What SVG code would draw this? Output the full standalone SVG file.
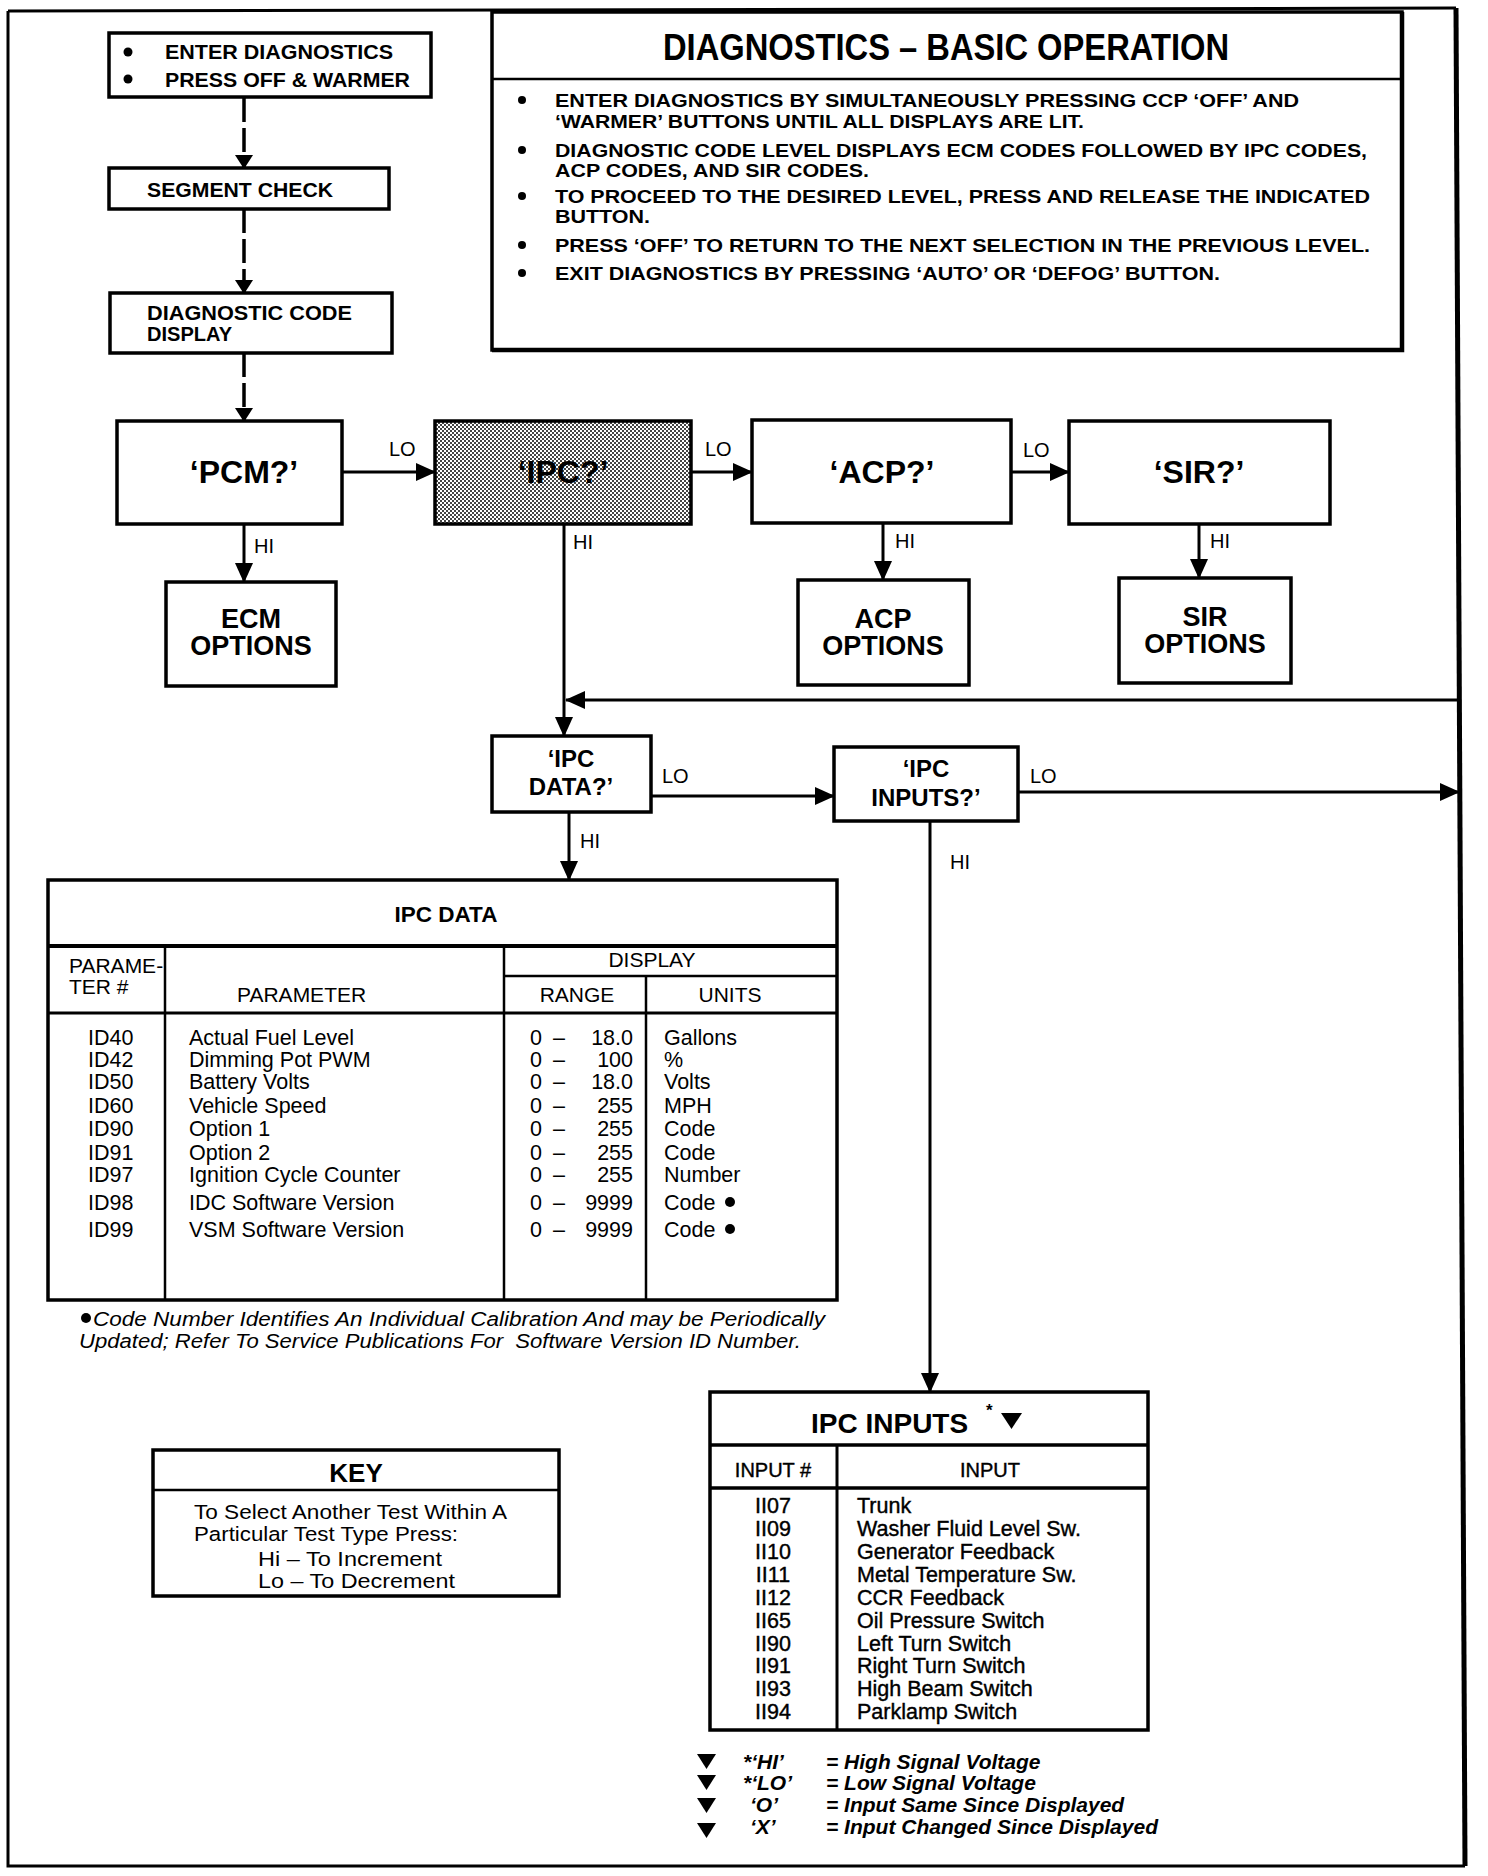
<svg xmlns="http://www.w3.org/2000/svg" width="1488" height="1876" viewBox="0 0 1488 1876">
<defs>
<style>
text{font-family:"Liberation Sans",Arial,Helvetica,sans-serif;fill:#000}
.box{fill:#fff;stroke:#000;stroke-width:3.5}
.ln{fill:none;stroke:#000;stroke-width:3}
.tl{fill:none;stroke:#000;stroke-width:2.5}
.dash{fill:none;stroke:#000;stroke-width:3.5;stroke-dasharray:24 6}
.b{font-weight:bold}
.m{stroke:#000;stroke-width:0.4}
.i{font-style:italic}
.mid{text-anchor:middle}
.end{text-anchor:end}
.node{font-size:32px;font-weight:bold;text-anchor:middle}
.opt{font-size:27px;font-weight:bold;text-anchor:middle}
.sub{font-size:24px;font-weight:bold;text-anchor:middle}
.lbl{font-size:20px}
.tb{font-size:21.5px}
.bx{font-size:21px;font-weight:bold}
.hd{font-size:21px}
.dg{font-size:19px;font-weight:bold}
.ky{font-size:20.5px}
</style>
<pattern id="stip" width="4" height="4" patternUnits="userSpaceOnUse"><rect width="4" height="4" fill="#fff"/><rect width="2" height="2" fill="#444"/><rect x="2" y="2" width="2" height="2" fill="#444"/></pattern>
<marker id="ah" markerUnits="userSpaceOnUse" markerWidth="20" markerHeight="18" refX="19" refY="9" orient="auto"><path d="M0,0 L20,9 L0,18 z" fill="#000"/></marker>
<marker id="ahs" markerUnits="userSpaceOnUse" markerWidth="14" markerHeight="18" refX="13" refY="9" orient="auto"><path d="M0,0 L14,9 L0,18 z" fill="#000"/></marker>
</defs>
<rect width="1488" height="1876" fill="#fff"/>

<g id="frame">
<path d="M8,11 L1456,8 M8,11 L8,1866 L1465,1866" class="ln"/>
<path d="M1456,8 L1465,1866" fill="none" stroke="#000" stroke-width="5"/>
</g>

<g id="n-enter">
<rect class="box" x="109" y="33" width="322" height="64"/>
<circle cx="128" cy="52" r="4.5"/>
<circle cx="128" cy="79" r="4.5"/>
<text class="bx" x="165" y="59" textLength="228" lengthAdjust="spacingAndGlyphs">ENTER DIAGNOSTICS</text>
<text class="bx" x="165" y="87" textLength="245" lengthAdjust="spacingAndGlyphs">PRESS OFF &amp; WARMER</text>
</g>

<g id="n-segment">
<rect class="box" x="109" y="168" width="280" height="41"/>
<text class="bx" x="147" y="197" textLength="186" lengthAdjust="spacingAndGlyphs">SEGMENT CHECK</text>
</g>

<g id="n-diagcode">
<rect class="box" x="110" y="293" width="282" height="60"/>
<text class="bx" x="147" y="320" textLength="205" lengthAdjust="spacingAndGlyphs">DIAGNOSTIC CODE</text>
<text class="bx" x="147" y="341" textLength="85" lengthAdjust="spacingAndGlyphs">DISPLAY</text>
</g>

<g id="n-basic">
<rect x="492" y="12" width="910" height="338" fill="#fff" stroke="#000" stroke-width="3.5"/>
<path d="M1402,12 V350 H492" fill="none" stroke="#000" stroke-width="4.5"/>
<line x1="492" y1="79" x2="1402" y2="79" class="tl"/>
<text class="b" x="946" y="60" font-size="36" text-anchor="middle" textLength="566" lengthAdjust="spacingAndGlyphs">DIAGNOSTICS – BASIC OPERATION</text>
<circle cx="522" cy="100" r="4"/>
<circle cx="522" cy="150" r="4"/>
<circle cx="522" cy="196" r="4"/>
<circle cx="522" cy="245" r="4"/>
<circle cx="522" cy="273" r="4"/>
<text class="dg" x="555" y="107" textLength="744" lengthAdjust="spacingAndGlyphs">ENTER DIAGNOSTICS BY SIMULTANEOUSLY PRESSING CCP ‘OFF’ AND</text>
<text class="dg" x="555" y="128" textLength="529" lengthAdjust="spacingAndGlyphs">‘WARMER’ BUTTONS UNTIL ALL DISPLAYS ARE LIT.</text>
<text class="dg" x="555" y="157" textLength="812" lengthAdjust="spacingAndGlyphs">DIAGNOSTIC CODE LEVEL DISPLAYS ECM CODES FOLLOWED BY IPC CODES,</text>
<text class="dg" x="555" y="177" textLength="314" lengthAdjust="spacingAndGlyphs">ACP CODES, AND SIR CODES.</text>
<text class="dg" x="555" y="203" textLength="815" lengthAdjust="spacingAndGlyphs">TO PROCEED TO THE DESIRED LEVEL, PRESS AND RELEASE THE INDICATED</text>
<text class="dg" x="555" y="223" textLength="95" lengthAdjust="spacingAndGlyphs">BUTTON.</text>
<text class="dg" x="555" y="252" textLength="815" lengthAdjust="spacingAndGlyphs">PRESS ‘OFF’ TO RETURN TO THE NEXT SELECTION IN THE PREVIOUS LEVEL.</text>
<text class="dg" x="555" y="280" textLength="665" lengthAdjust="spacingAndGlyphs">EXIT DIAGNOSTICS BY PRESSING ‘AUTO’ OR ‘DEFOG’ BUTTON.</text>
</g>

<g id="n-pcm">
<rect class="box" x="117" y="421" width="225" height="103"/>
<text class="node" x="244" y="483">‘PCM?’</text>
</g>
<g id="n-ipc">
<rect x="435" y="421" width="256" height="103" fill="url(#stip)" stroke="#000" stroke-width="3.5"/>
<text class="node" x="563" y="483">‘IPC?’</text>
</g>
<g id="n-acp">
<rect class="box" x="752" y="420" width="259" height="103"/>
<text class="node" x="882" y="483">‘ACP?’</text>
</g>
<g id="n-sir">
<rect class="box" x="1069" y="421" width="261" height="103"/>
<text class="node" x="1199" y="483">‘SIR?’</text>
</g>

<g id="n-ecm">
<rect class="box" x="166" y="582" width="170" height="104"/>
<text class="opt" x="251" y="628">ECM</text>
<text class="opt" x="251" y="655">OPTIONS</text>
</g>
<g id="n-acpopt">
<rect class="box" x="798" y="580" width="171" height="105"/>
<text class="opt" x="883" y="628">ACP</text>
<text class="opt" x="883" y="655">OPTIONS</text>
</g>
<g id="n-siropt">
<rect class="box" x="1119" y="578" width="172" height="105"/>
<text class="opt" x="1205" y="626">SIR</text>
<text class="opt" x="1205" y="653">OPTIONS</text>
</g>

<g id="n-ipcdata">
<rect class="box" x="492" y="736" width="159" height="76"/>
<text class="sub" x="571" y="767">‘IPC</text>
<text class="sub" x="571" y="795">DATA?’</text>
</g>
<g id="n-ipcinputs">
<rect class="box" x="834" y="747" width="184" height="74"/>
<text class="sub" x="926" y="777">‘IPC</text>
<text class="sub" x="926" y="806">INPUTS?’</text>
</g>

<g id="connectors">
<path class="dash" d="M244,98 V168" marker-end="url(#ahs)"/>
<path class="dash" d="M244,209 V293" marker-end="url(#ahs)"/>
<path class="dash" d="M244,353 V421" marker-end="url(#ahs)"/>
<path class="ln" d="M342,472 H435" marker-end="url(#ah)"/>
<path class="ln" d="M691,472 H752" marker-end="url(#ah)"/>
<path class="ln" d="M1011,472 H1069" marker-end="url(#ah)"/>
<path class="ln" d="M244,524 V582" marker-end="url(#ah)"/>
<path class="ln" d="M883,523 V580" marker-end="url(#ah)"/>
<path class="ln" d="M1199,524 V578" marker-end="url(#ah)"/>
<path class="ln" d="M564,524 V736" marker-end="url(#ah)"/>
<path class="ln" d="M1459,700 H566" marker-end="url(#ah)"/>
<path class="ln" d="M651,796 H834" marker-end="url(#ah)"/>
<path class="ln" d="M1018,792 H1459" marker-end="url(#ah)"/>
<path class="ln" d="M569,812 V880" marker-end="url(#ah)"/>
<path class="ln" d="M930,821 V1392" marker-end="url(#ah)"/>
<text class="lbl" x="389" y="456">LO</text>
<text class="lbl" x="705" y="456">LO</text>
<text class="lbl" x="1023" y="457">LO</text>
<text class="lbl" x="662" y="783">LO</text>
<text class="lbl" x="1030" y="783">LO</text>
<text class="lbl" x="254" y="553">HI</text>
<text class="lbl" x="573" y="549">HI</text>
<text class="lbl" x="895" y="548">HI</text>
<text class="lbl" x="1210" y="548">HI</text>
<text class="lbl" x="580" y="848">HI</text>
<text class="lbl" x="950" y="869">HI</text>
</g>

<g id="t-ipcdata">
<rect class="box" x="48" y="880" width="789" height="420"/>
<line x1="48" y1="946" x2="837" y2="946" stroke="#000" stroke-width="4"/>
<line x1="48" y1="1013" x2="837" y2="1013" stroke="#000" stroke-width="3"/>
<line x1="504" y1="976" x2="837" y2="976" stroke="#000" stroke-width="2.5"/>
<line x1="165" y1="946" x2="165" y2="1300" stroke="#000" stroke-width="2.5"/>
<line x1="504" y1="946" x2="504" y2="1300" stroke="#000" stroke-width="2.5"/>
<line x1="646" y1="976" x2="646" y2="1300" stroke="#000" stroke-width="2.5"/>
<text class="b mid" x="446" y="922" font-size="22.5">IPC DATA</text>
<text class="hd" x="69" y="973">PARAME-</text>
<text class="hd" x="69" y="994">TER #</text>
<text class="hd" x="237" y="1002">PARAMETER</text>
<text class="hd mid" x="652" y="967">DISPLAY</text>
<text class="hd mid" x="577" y="1002">RANGE</text>
<text class="hd mid" x="730" y="1002">UNITS</text>
<g class="tb">
<text x="88" y="1045">ID40</text><text x="189" y="1045">Actual Fuel Level</text><text x="530" y="1045">0</text><text x="553" y="1045">–</text><text class="end" x="633" y="1045">18.0</text><text x="664" y="1045">Gallons</text>
<text x="88" y="1067">ID42</text><text x="189" y="1067">Dimming Pot PWM</text><text x="530" y="1067">0</text><text x="553" y="1067">–</text><text class="end" x="633" y="1067">100</text><text x="664" y="1067">%</text>
<text x="88" y="1089">ID50</text><text x="189" y="1089">Battery Volts</text><text x="530" y="1089">0</text><text x="553" y="1089">–</text><text class="end" x="633" y="1089">18.0</text><text x="664" y="1089">Volts</text>
<text x="88" y="1113">ID60</text><text x="189" y="1113">Vehicle Speed</text><text x="530" y="1113">0</text><text x="553" y="1113">–</text><text class="end" x="633" y="1113">255</text><text x="664" y="1113">MPH</text>
<text x="88" y="1136">ID90</text><text x="189" y="1136">Option 1</text><text x="530" y="1136">0</text><text x="553" y="1136">–</text><text class="end" x="633" y="1136">255</text><text x="664" y="1136">Code</text>
<text x="88" y="1160">ID91</text><text x="189" y="1160">Option 2</text><text x="530" y="1160">0</text><text x="553" y="1160">–</text><text class="end" x="633" y="1160">255</text><text x="664" y="1160">Code</text>
<text x="88" y="1182">ID97</text><text x="189" y="1182">Ignition Cycle Counter</text><text x="530" y="1182">0</text><text x="553" y="1182">–</text><text class="end" x="633" y="1182">255</text><text x="664" y="1182">Number</text>
<text x="88" y="1210">ID98</text><text x="189" y="1210">IDC Software Version</text><text x="530" y="1210">0</text><text x="553" y="1210">–</text><text class="end" x="633" y="1210">9999</text><text x="664" y="1210">Code</text>
<text x="88" y="1237">ID99</text><text x="189" y="1237">VSM Software Version</text><text x="530" y="1237">0</text><text x="553" y="1237">–</text><text class="end" x="633" y="1237">9999</text><text x="664" y="1237">Code</text>
</g>
<circle cx="730" cy="1202" r="5"/>
<circle cx="730" cy="1229" r="5"/>
</g>

<g id="footnote">
<circle cx="86" cy="1318" r="5"/>
<text class="i" x="93" y="1326" font-size="20" textLength="732" lengthAdjust="spacingAndGlyphs">Code Number Identifies An Individual Calibration And may be Periodically</text>
<text class="i" x="79" y="1348" font-size="20" textLength="722" lengthAdjust="spacingAndGlyphs" xml:space="preserve">Updated; Refer To Service Publications For  Software Version ID Number.</text>
</g>

<g id="key">
<rect class="box" x="153" y="1450" width="406" height="146"/>
<line x1="153" y1="1490" x2="559" y2="1490" stroke="#000" stroke-width="2.5"/>
<text class="b mid" x="356" y="1482" font-size="26">KEY</text>
<text class="ky" x="194" y="1519" textLength="313" lengthAdjust="spacingAndGlyphs">To Select Another Test Within A</text>
<text class="ky" x="194" y="1541" textLength="264" lengthAdjust="spacingAndGlyphs">Particular Test Type Press:</text>
<text class="ky" x="258" y="1566" textLength="184" lengthAdjust="spacingAndGlyphs">Hi – To Increment</text>
<text class="ky" x="258" y="1588" textLength="197" lengthAdjust="spacingAndGlyphs">Lo – To Decrement</text>
</g>

<g id="t-ipcinputs">
<rect class="box" x="710" y="1392" width="438" height="338"/>
<line x1="710" y1="1445" x2="1148" y2="1445" stroke="#000" stroke-width="3.5"/>
<line x1="710" y1="1488" x2="1148" y2="1488" stroke="#000" stroke-width="3.5"/>
<line x1="837" y1="1445" x2="837" y2="1730" stroke="#000" stroke-width="3"/>
<text class="b" x="811" y="1433" font-size="28">IPC INPUTS</text>
<text class="b" x="986" y="1416" font-size="17">*</text>
<path d="M1001,1413 H1022 L1011.5,1429 Z"/>
<text class="mid m" x="773" y="1477" font-size="20">INPUT #</text>
<text class="mid m" x="990" y="1477" font-size="20">INPUT</text>
<g font-size="21.5" class="m">
<text class="mid" x="773" y="1513">II07</text><text x="857" y="1513">Trunk</text>
<text class="mid" x="773" y="1536">II09</text><text x="857" y="1536">Washer Fluid Level Sw.</text>
<text class="mid" x="773" y="1559">II10</text><text x="857" y="1559">Generator Feedback</text>
<text class="mid" x="773" y="1582">II11</text><text x="857" y="1582">Metal Temperature Sw.</text>
<text class="mid" x="773" y="1605">II12</text><text x="857" y="1605">CCR Feedback</text>
<text class="mid" x="773" y="1628">II65</text><text x="857" y="1628">Oil Pressure Switch</text>
<text class="mid" x="773" y="1651">II90</text><text x="857" y="1651">Left Turn Switch</text>
<text class="mid" x="773" y="1673">II91</text><text x="857" y="1673">Right Turn Switch</text>
<text class="mid" x="773" y="1696">II93</text><text x="857" y="1696">High Beam Switch</text>
<text class="mid" x="773" y="1719">II94</text><text x="857" y="1719">Parklamp Switch</text>
</g>
</g>

<g id="legend">
<path d="M697,1754 H716 L706.5,1769 Z"/>
<path d="M697,1775 H716 L706.5,1790 Z"/>
<path d="M697,1798 H716 L706.5,1813 Z"/>
<path d="M697,1823 H716 L706.5,1838 Z"/>
<g class="i b" font-size="21">
<text x="743" y="1769">*‘HI’</text><text x="826" y="1769">= High Signal Voltage</text>
<text x="743" y="1790">*‘LO’</text><text x="826" y="1790">= Low Signal Voltage</text>
<text x="750" y="1812">‘O’</text><text x="826" y="1812">= Input Same Since Displayed</text>
<text x="750" y="1834">‘X’</text><text x="826" y="1834">= Input Changed Since Displayed</text>
</g>
</g>
</svg>
